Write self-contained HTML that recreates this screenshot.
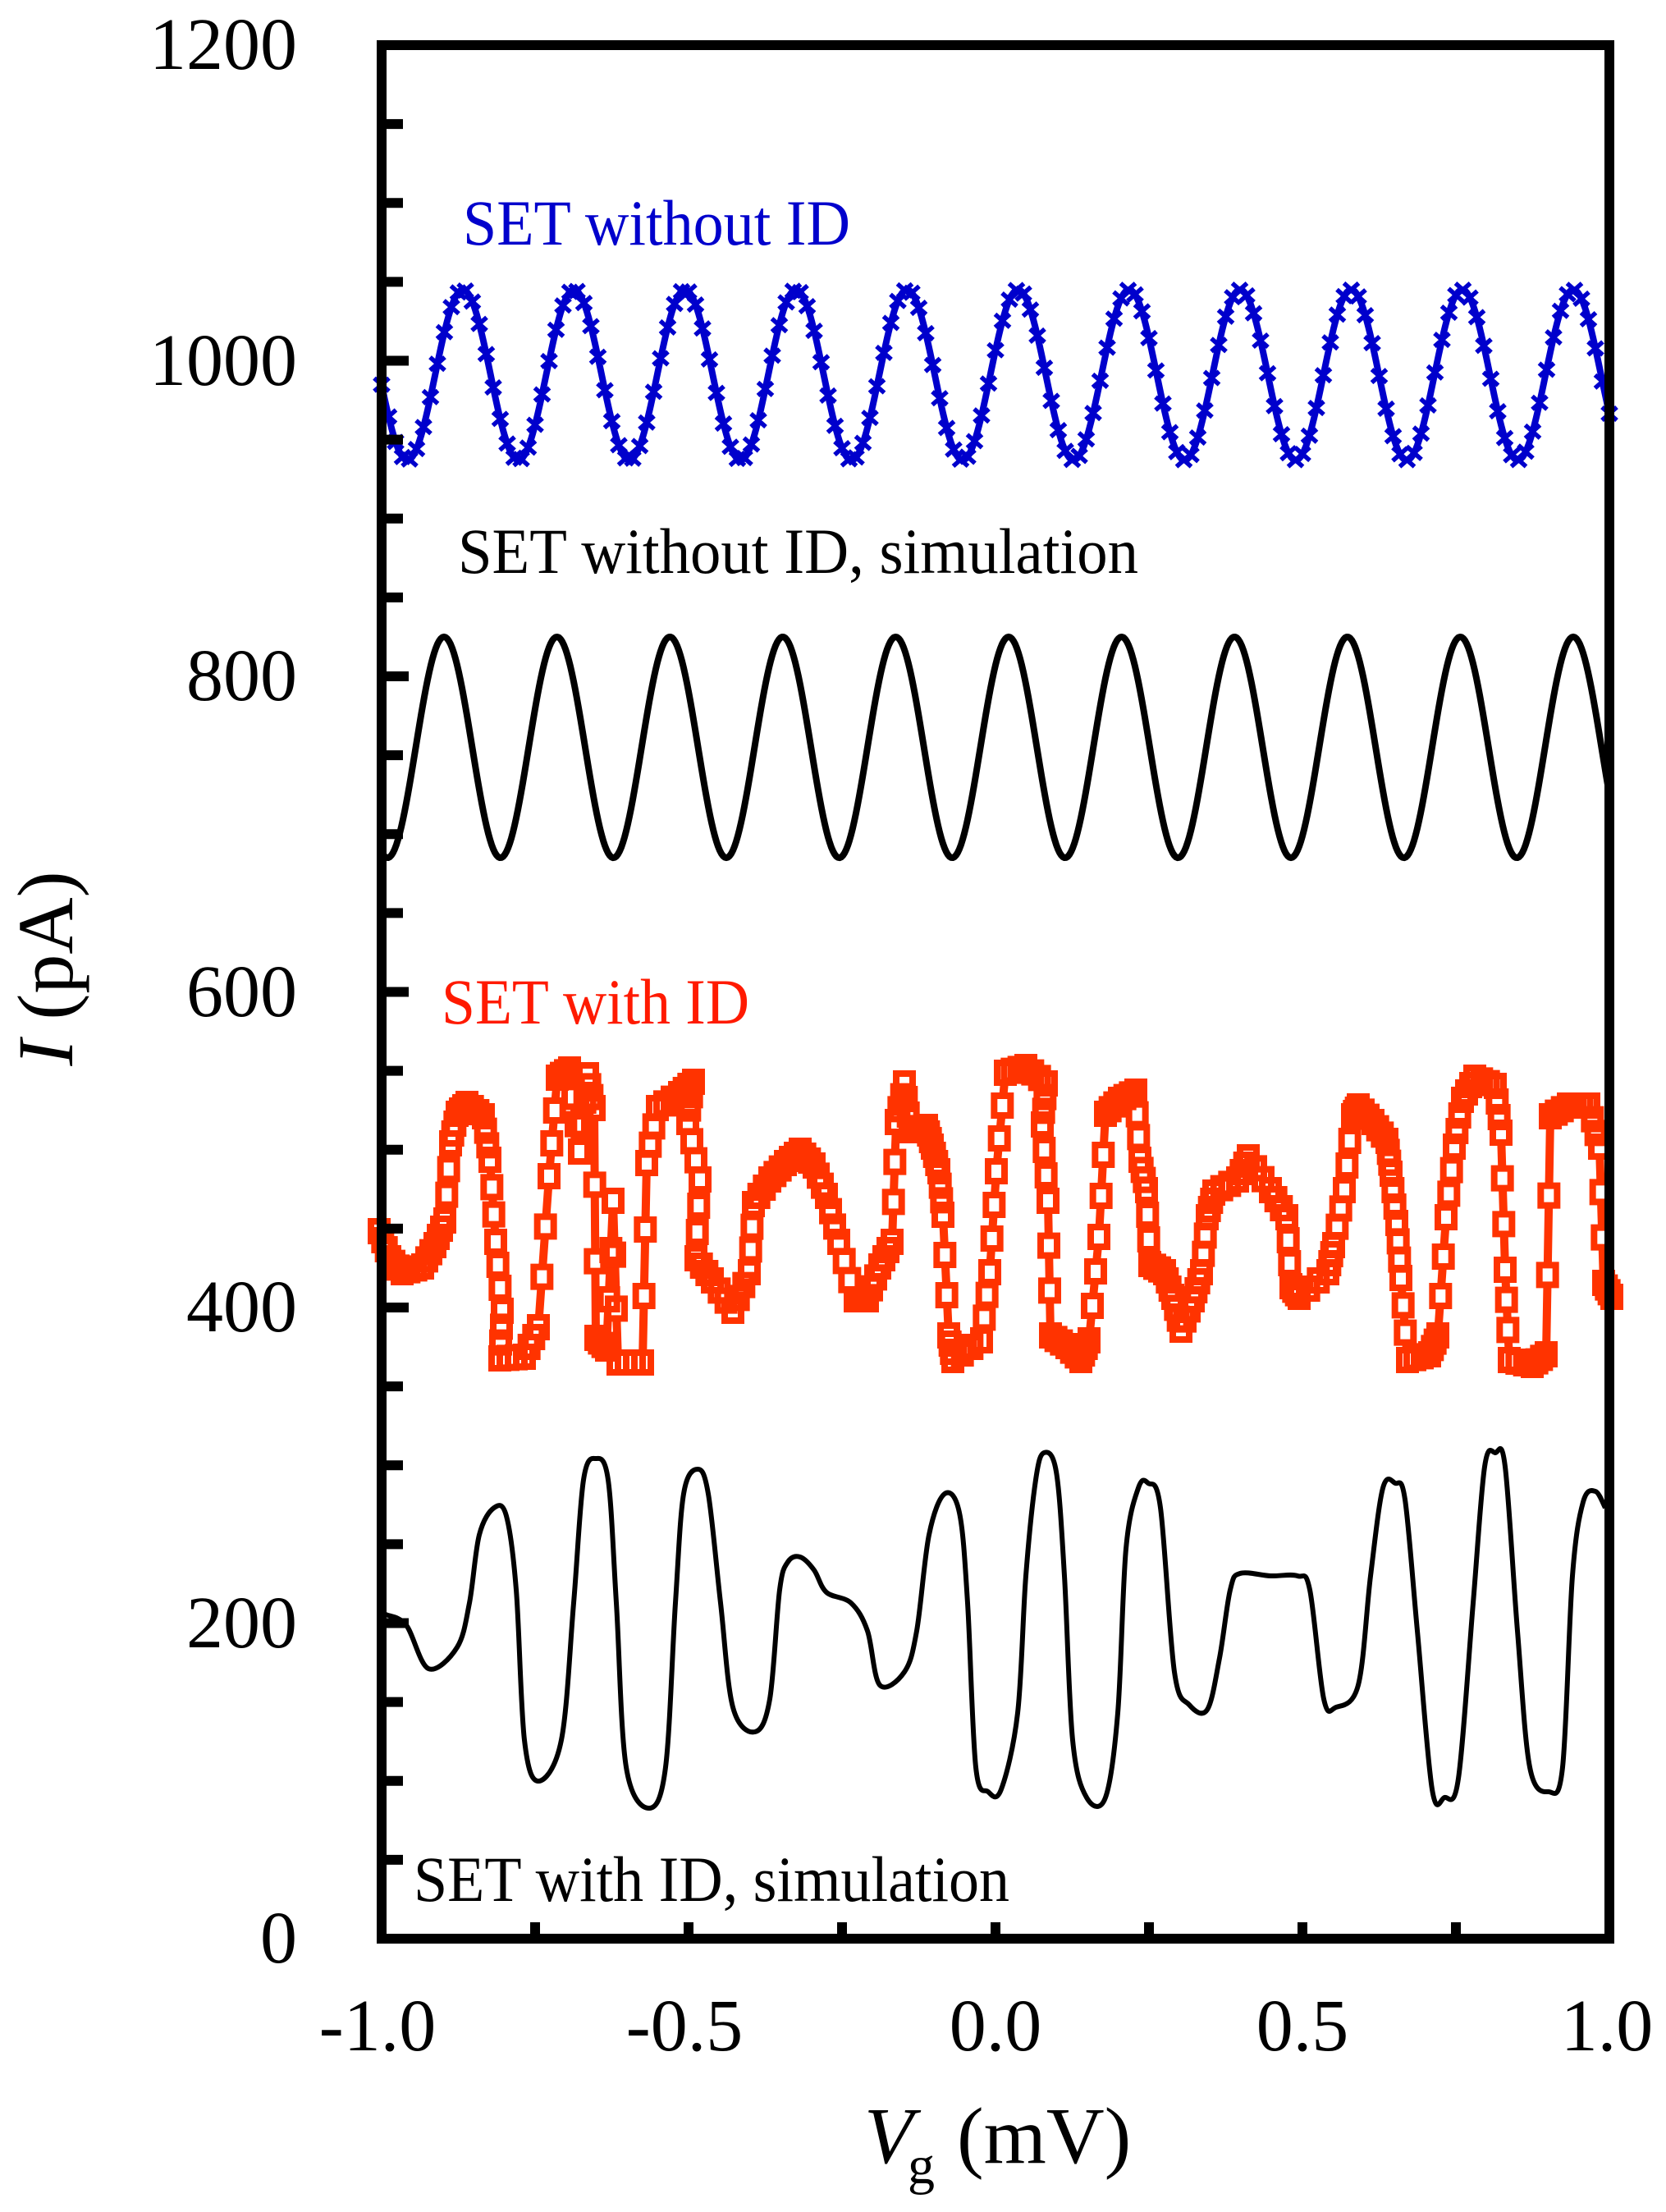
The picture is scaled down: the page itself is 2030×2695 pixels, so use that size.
<!DOCTYPE html>
<html><head><meta charset="utf-8"><style>html,body{margin:0;padding:0;background:#fff}svg{display:block}</style></head>
<body>
<svg id="s" xmlns="http://www.w3.org/2000/svg" width="2030" height="2695" viewBox="0 0 2030 2695" font-family="'Liberation Serif', serif">
<rect width="2030" height="2695" fill="#fff"/>
<g id="plot"></g>
<g id="axes"></g>
<g font-size="90" fill="#000" text-anchor="end">
<text x="362" y="84">1200</text>
<text x="362" y="469">1000</text>
<text x="362" y="853">800</text>
<text x="362" y="1238">600</text>
<text x="362" y="1622">400</text>
<text x="362" y="2007">200</text>
<text x="362" y="2391">0</text>
</g>
<g font-size="90" fill="#000" text-anchor="middle">
<text x="460" y="2498">-1.0</text>
<text x="834" y="2498">-0.5</text>
<text x="1213" y="2498">0.0</text>
<text x="1587" y="2498">0.5</text>
<text x="1958" y="2498">1.0</text>
</g>
<text transform="translate(88,1180) rotate(-90)" text-anchor="middle" font-size="96" fill="#000"><tspan font-style="italic">I</tspan> (pA)</text>
<text x="1053" y="2635" font-size="98" fill="#000" font-style="italic">V</text>
<text x="1106" y="2660" font-size="66" fill="#000">g</text>
<text x="1166" y="2635" font-size="98" fill="#000">(mV)</text>
<text x="564" y="298" font-size="78" fill="#0000cc" textLength="472" lengthAdjust="spacingAndGlyphs">SET without ID</text>
<text x="558" y="698" font-size="78" fill="#000" textLength="829" lengthAdjust="spacingAndGlyphs">SET without ID, simulation</text>
<text x="538" y="1247" font-size="78" fill="#ff1a00" textLength="375" lengthAdjust="spacingAndGlyphs">SET with ID</text>
<text x="504" y="2316" font-size="78" fill="#000" textLength="726" lengthAdjust="spacingAndGlyphs">SET with ID, simulation</text>
</svg>
<script>
(function(){
var NS="http://www.w3.org/2000/svg";
var plot=document.getElementById('plot'), axes=document.getElementById('axes');
function el(tag,attrs,parent){var e=document.createElementNS(NS,tag);for(var k in attrs)e.setAttribute(k,attrs[k]);(parent||plot).appendChild(e);return e;}
var L=465,R=1961,T=55,B=2362;
function Y(I){return B-I*1.9225;}
var pts=[],d='';
for(var x=L;x<=R;x+=2){var y=Y(991+54*Math.cos(2*Math.PI*(x-1917)/135.3));pts.push([x,y]);}
d='M'+pts.map(function(p){return p[0].toFixed(1)+','+p[1].toFixed(1)}).join('L');
el('path',{d:d,fill:'none',stroke:'#0000cc','stroke-width':8,'stroke-linejoin':'round'});
var md='';
for(var x=L;x<=R;x+=8.5){var y=Y(991+54*Math.cos(2*Math.PI*(x-1917)/135.3));md+='M'+(x-9)+','+(y-8)+'L'+(x+9)+','+(y+8)+'M'+(x-9)+','+(y+8)+'L'+(x+9)+','+(y-8);}
el('path',{d:md,fill:'none',stroke:'#0000cc','stroke-width':5.5});
pts=[];
for(var x=L;x<=R;x+=2){var y=Y(755+70*Math.cos(2*Math.PI*(x-1917)/137.6));pts.push([x,y]);}
d='M'+pts.map(function(p){return p[0].toFixed(1)+','+p[1].toFixed(1)}).join('L');
el('path',{d:d,fill:'none',stroke:'#000','stroke-width':8,'stroke-linejoin':'round'});
function cr(P){var s='M'+P[0][0]+','+P[0][1];for(var i=0;i<P.length-1;i++){var p0=P[i-1]||P[i],p1=P[i],p2=P[i+1],p3=P[i+2]||P[i+1];
s+='C'+(p1[0]+(p2[0]-p0[0])/6).toFixed(1)+','+(p1[1]+(p2[1]-p0[1])/6).toFixed(1)+' '+(p2[0]-(p3[0]-p1[0])/6).toFixed(1)+','+(p2[1]-(p3[1]-p1[1])/6).toFixed(1)+' '+p2[0]+','+p2[1];}return s;}
var red=[[462,1500],[475,1533],[490,1550],[515,1543],[530,1517],[542,1487],[549,1393],[557,1357],[569,1345],[589,1360],[597,1413],[604,1513],[612,1597],[609,1655],[639,1653],[656,1617],[669,1433],[679,1313],[694,1303],[706,1403],[716,1310],[724,1350],[726,1630],[739,1643],[747,1463],[753,1660],[783,1660],[788,1417],[801,1350],[828,1333],[845,1318],[838,1367],[853,1437],[848,1533],[868,1560],[893,1597],[913,1550],[918,1467],[938,1437],[957,1417],[975,1402],[992,1420],[1007,1457],[1022,1513],[1042,1583],[1057,1583],[1072,1543],[1087,1513],[1092,1367],[1102,1320],[1109,1377],[1129,1373],[1136,1397],[1144,1427],[1149,1480],[1156,1627],[1161,1657],[1196,1633],[1206,1550],[1214,1427],[1225,1307],[1250,1300],[1275,1320],[1270,1370],[1277,1463],[1280,1627],[1300,1640],[1317,1657],[1327,1633],[1339,1507],[1347,1357],[1364,1340],[1384,1330],[1389,1413],[1397,1450],[1401,1540],[1419,1550],[1429,1580],[1439,1620],[1454,1583],[1464,1550],[1471,1483],[1479,1453],[1508,1437],[1521,1410],[1548,1450],[1568,1483],[1573,1567],[1583,1580],[1618,1550],[1625,1517],[1638,1450],[1648,1360],[1655,1348],[1673,1367],[1690,1390],[1695,1430],[1702,1490],[1707,1557],[1715,1657],[1742,1650],[1752,1627],[1762,1483],[1772,1397],[1782,1340],[1797,1313],[1822,1323],[1829,1380],[1834,1547],[1839,1657],[1867,1663],[1884,1650],[1889,1360],[1911,1347],[1936,1347],[1949,1397],[1954,1563],[1964,1580]];
d='M'+red.map(function(p){return p.join(',')}).join('L');
el('path',{d:d,fill:'none',stroke:'#ff3300','stroke-width':10,'stroke-linejoin':'round'});
var sq='';
function addSq(x,y){sq+='M'+(x-10)+','+(y-12)+'h20v24h-20z';}
for(var i=0;i<red.length;i++){addSq(red[i][0],red[i][1]);if(i<red.length-1){var a=red[i],b=red[i+1];for(var t=1;t<3;t++){addSq(a[0]+(b[0]-a[0])*t/3,a[1]+(b[1]-a[1])*t/3);}}}
el('path',{d:sq,fill:'#fff',stroke:'#ff3300','stroke-width':8});
var bk=[[467,1965],[470,1967],[495,1980],[522,2033],[557,2007],[572,1953],[584,1870],[602,1837],[617,1847],[629,1937],[639,2120],[656,2170],[684,2120],[699,1953],[711,1803],[726,1777],[741,1803],[751,1953],[763,2153],[791,2203],[811,2153],[823,1953],[833,1820],[850,1790],[863,1820],[878,1953],[893,2080],[920,2110],[938,2070],[950,1937],[960,1903],[975,1897],[992,1913],[1007,1940],[1037,1953],[1057,1987],[1072,2053],[1102,2037],[1117,1987],[1132,1870],[1151,1820],[1169,1843],[1179,1953],[1189,2153],[1204,2183],[1220,2180],[1240,2087],[1250,1920],[1262,1803],[1272,1770],[1287,1793],[1297,1920],[1307,2120],[1324,2190],[1347,2190],[1362,2087],[1372,1887],[1387,1813],[1399,1807],[1414,1837],[1431,2037],[1449,2077],[1471,2083],[1486,2020],[1499,1937],[1511,1917],[1548,1920],[1581,1920],[1596,1937],[1613,2070],[1628,2080],[1655,2053],[1670,1920],[1685,1813],[1700,1807],[1712,1827],[1727,1987],[1745,2180],[1760,2190],[1777,2167],[1795,1953],[1809,1787],[1822,1770],[1834,1787],[1849,1987],[1864,2153],[1887,2183],[1904,2153],[1916,1920],[1929,1830],[1944,1817],[1956,1837]];
el('path',{d:cr(bk),fill:'none',stroke:'#000','stroke-width':6,'stroke-linejoin':'round'});
var ad='';
for(var v=0;v<=1200;v+=50){var y=Y(v);if(v==0||v==1200)continue;var len=(v%200==0)?33:26;ad+='M'+L+','+y.toFixed(1)+'h'+len;}
el('path',{d:ad,stroke:'#000','stroke-width':12,fill:'none'},axes);
var xd='';
for(var k=1;k<8;k++){var x=L+k*187;xd+='M'+x+','+B+'v-20';}
el('path',{d:xd,stroke:'#000','stroke-width':12,fill:'none'},axes);
el('rect',{x:L,y:T,width:R-L,height:B-T,fill:'none',stroke:'#000','stroke-width':12},axes);
})();
</script>
</body></html>
